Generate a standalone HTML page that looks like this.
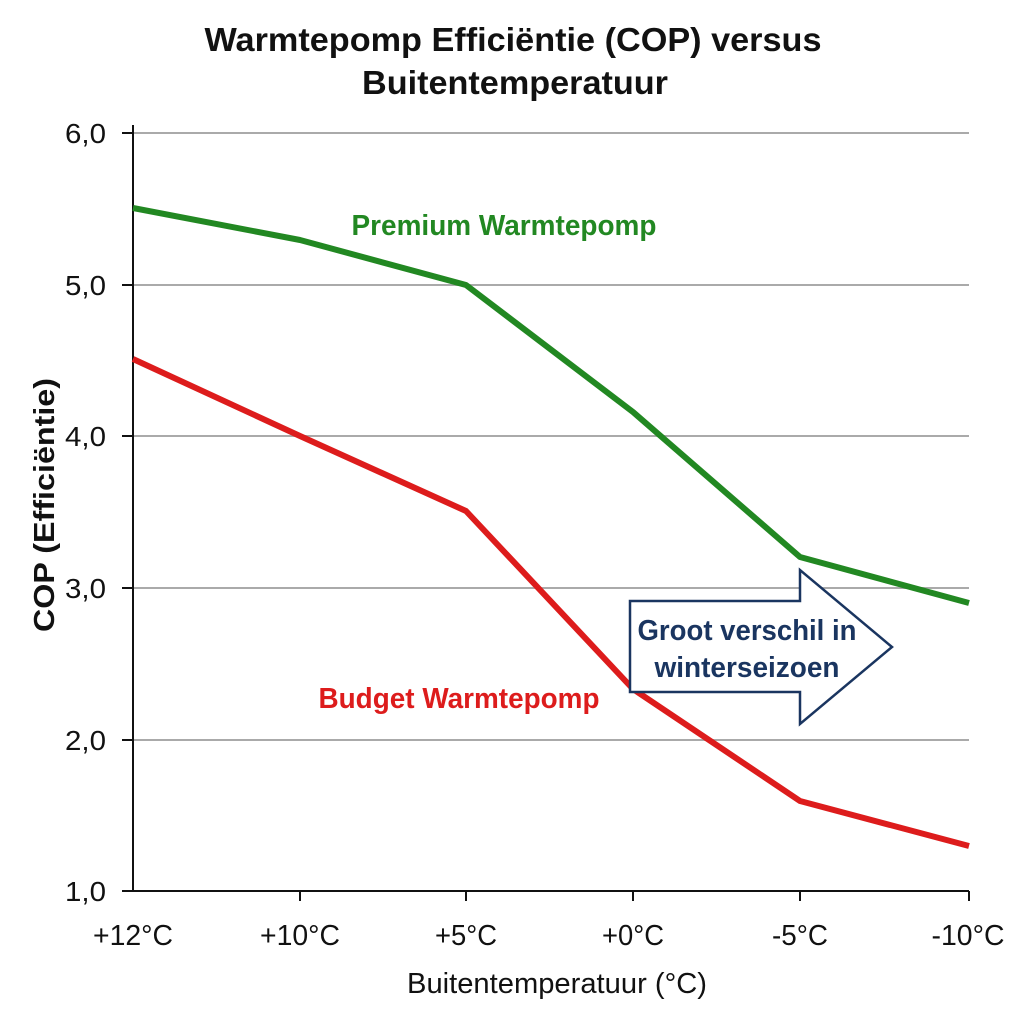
<!DOCTYPE html>
<html><head><style>body{margin:0;background:#fff}svg{display:block}</style></head><body>
<svg width="1024" height="1024" xmlns="http://www.w3.org/2000/svg" font-family="Liberation Sans, sans-serif">
<rect width="1024" height="1024" fill="#fff"/>
<text x="513" y="51" text-anchor="middle" font-size="33" font-weight="bold" fill="#111" textLength="617" lengthAdjust="spacingAndGlyphs">Warmtepomp Efficiëntie (COP) versus</text>
<text x="515" y="94" text-anchor="middle" font-size="33" font-weight="bold" fill="#111" textLength="306" lengthAdjust="spacingAndGlyphs">Buitentemperatuur</text>
<g stroke="#aaa" stroke-width="2">
<line x1="133" y1="133" x2="969" y2="133"/><line x1="133" y1="285" x2="969" y2="285"/>
<line x1="133" y1="436" x2="969" y2="436"/><line x1="133" y1="588" x2="969" y2="588"/>
<line x1="133" y1="740" x2="969" y2="740"/>
</g>
<g stroke="#111" stroke-width="2">
<line x1="133" y1="125" x2="133" y2="891"/><line x1="133" y1="891" x2="969" y2="891"/>
<line x1="122" y1="133" x2="133" y2="133"/><line x1="122" y1="285" x2="133" y2="285"/><line x1="122" y1="436" x2="133" y2="436"/><line x1="122" y1="588" x2="133" y2="588"/><line x1="122" y1="740" x2="133" y2="740"/><line x1="122" y1="891" x2="133" y2="891"/>
<line x1="300" y1="891" x2="300" y2="901"/><line x1="466" y1="891" x2="466" y2="901"/><line x1="633" y1="891" x2="633" y2="901"/><line x1="800" y1="891" x2="800" y2="901"/><line x1="969" y1="891" x2="969" y2="901"/>
</g>
<g font-size="28" fill="#111" text-anchor="end">
<text x="106" y="143" textLength="41" lengthAdjust="spacingAndGlyphs">6,0</text><text x="106" y="295" textLength="41" lengthAdjust="spacingAndGlyphs">5,0</text><text x="106" y="446" textLength="41" lengthAdjust="spacingAndGlyphs">4,0</text><text x="106" y="598" textLength="41" lengthAdjust="spacingAndGlyphs">3,0</text><text x="106" y="750" textLength="41" lengthAdjust="spacingAndGlyphs">2,0</text><text x="106" y="901" textLength="41" lengthAdjust="spacingAndGlyphs">1,0</text>
</g>
<g font-size="29" fill="#111" text-anchor="middle">
<text x="133" y="945" textLength="80" lengthAdjust="spacingAndGlyphs">+12°C</text><text x="300" y="945" textLength="80" lengthAdjust="spacingAndGlyphs">+10°C</text><text x="466" y="945" textLength="62" lengthAdjust="spacingAndGlyphs">+5°C</text><text x="633" y="945" textLength="62" lengthAdjust="spacingAndGlyphs">+0°C</text><text x="800" y="945" textLength="56" lengthAdjust="spacingAndGlyphs">-5°C</text><text x="968" y="945" textLength="73" lengthAdjust="spacingAndGlyphs">-10°C</text>
<text x="557" y="993" textLength="300" lengthAdjust="spacingAndGlyphs">Buitentemperatuur (°C)</text>
</g>
<text transform="translate(54,505) rotate(-90)" text-anchor="middle" font-size="29" font-weight="bold" fill="#111" textLength="254" lengthAdjust="spacingAndGlyphs">COP (Efficiëntie)</text>
<polyline points="133,208 300,240 466,285 633,412 800,557 969,603" fill="none" stroke="#228822" stroke-width="6" stroke-linejoin="round"/>
<polyline points="133,359 300,436 466,511 633,689 800,801 969,846" fill="none" stroke="#dd1c1c" stroke-width="6" stroke-linejoin="round"/>
<text x="504" y="235" text-anchor="middle" font-size="29" font-weight="bold" fill="#228822" textLength="305" lengthAdjust="spacingAndGlyphs">Premium Warmtepomp</text>
<text x="459" y="708" text-anchor="middle" font-size="29" font-weight="bold" fill="#dd1c1c" textLength="281" lengthAdjust="spacingAndGlyphs">Budget Warmtepomp</text>
<polygon points="630,601 800,601 800,570 892,647 800,724 800,692 630,692" fill="#fff" stroke="#1a3560" stroke-width="2.5"/>
<g font-size="29" font-weight="bold" fill="#1a3560" text-anchor="middle">
<text x="747" y="640" textLength="219" lengthAdjust="spacingAndGlyphs">Groot verschil in</text><text x="747" y="677" textLength="185" lengthAdjust="spacingAndGlyphs">winterseizoen</text>
</g>
</svg>
</body></html>
